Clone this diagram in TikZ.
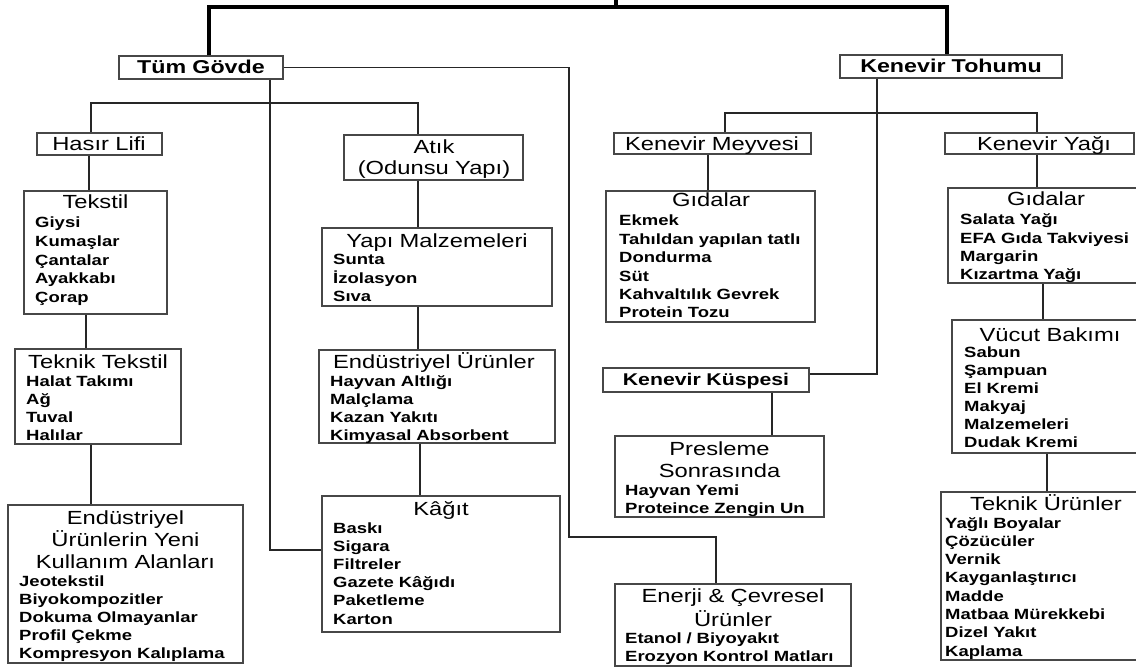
\documentclass[tikz,border=0pt]{standalone}
\usepackage{fontspec}
\setmainfont{Liberation Sans}[FakeStretch=1.25]
\usetikzlibrary{fit}
\tikzset{
  box/.style={draw=black!72, line width=1.1pt, inner sep=0pt},
  link/.style={draw=black!85, line width=1.2pt},
  trunk/.style={draw=black, line width=3.2pt},
  ttl/.style={inner sep=0pt, anchor=base, text width=300pt, align=center,
    font={\fontsize{19}{22}\selectfont}},
  hdr/.style={inner sep=0pt, anchor=base, text width=300pt, align=center,
    font={\fontsize{18.6}{22}\selectfont\bfseries}},
  itm/.style={inner sep=0pt, anchor=base west, text width=230pt, align=left,
    font={\fontsize{14.8}{18.4}\selectfont\bfseries}}
}
\begin{document}
\begin{tikzpicture}[x=1pt,y=-1pt]
\fill[white] (0,0) rectangle (1136,668);
\useasboundingbox (0,0) rectangle (1136,668);

% ---------- boxes ----------
\node[box, fit={(119,56) (283,79)}] (tg) {};
\node[box, fit={(840,55) (1062,78)}] (kt) {};
\node[box, fit={(37,133) (162,155)}] (hl) {};
\node[box, fit={(344,135) (523,180)}] (at) {};
\node[box, fit={(614,133) (811,154)}] (km) {};
\node[box, fit={(945,133) (1134,154)}] (ky) {};
\node[box, fit={(24,191) (167,314)}] (tx) {};
\node[box, fit={(322,228) (552,306)}] (ym) {};
\node[box, fit={(15,349) (181,444)}] (tt) {};
\node[box, fit={(319,350) (555,443)}] (eu) {};
\node[box, fit={(8,505) (243,663)}] (ey) {};
\node[box, fit={(322,496) (560,632)}] (kg) {};
\node[box, fit={(606,191) (815,322)}] (gl) {};
\node[box, fit={(948,188) (1150,283)}] (gr) {};
\node[box, fit={(603,368) (809,392)}] (kk) {};
\node[box, fit={(952,320) (1150,453)}] (vb) {};
\node[box, fit={(615,436) (824,517)}] (ps) {};
\node[box, fit={(615,584) (851,666)}] (en) {};
\node[box, fit={(941,492) (1150,660)}] (tu) {};

% ---------- connector bend points ----------
\coordinate (tick) at (616,0);
\coordinate (jL) at (209,7);
\coordinate (jR) at (947,7);
\coordinate (c1) at (569,537);
\coordinate (c2) at (716,537);
\coordinate (c3) at (270,550);
\coordinate (bl) at (91,103);
\coordinate (br) at (418,103);
\coordinate (rl) at (725,113);
\coordinate (rr) at (1037,113);
\coordinate (c4) at (877,374);
\coordinate (v1) at (89,0);
\coordinate (v2) at (86,0);
\coordinate (v3) at (91,0);
\coordinate (v4) at (418,0);
\coordinate (v5) at (420,0);
\coordinate (v6) at (708,0);
\coordinate (v7) at (772,0);
\coordinate (v8) at (1043,0);
\coordinate (v9) at (1047,0);

% ---------- connectors ----------
\draw[trunk] (tg.north -| jL) -- (jL) -- (jR) -- (kt.north -| jR);
\draw[trunk] (tick) -- (tick |- jL);
\draw[link] (tg.east) -| (c1) -- (c2) -- (en.north -| c2);
\draw[link] (tg.south -| c3) -- (c3) -- (kg.west |- c3);
\draw[link] (hl.north -| bl) -- (bl) -- (br) -- (at.north -| br);
\draw[link] (hl.south -| v1) -- (tx.north -| v1);
\draw[link] (tx.south -| v2) -- (tt.north -| v2);
\draw[link] (tt.south -| v3) -- (ey.north -| v3);
\draw[link] (at.south -| v4) -- (ym.north -| v4);
\draw[link] (ym.south -| v4) -- (eu.north -| v4);
\draw[link] (eu.south -| v5) -- (kg.north -| v5);
\draw[link] (km.north -| rl) -- (rl) -- (rr) -- (ky.north -| rr);
\draw[link] (kt.south -| c4) -- (c4) -- (kk.east |- c4);
\draw[link] (km.south -| v6) -- (gl.north -| v6);
\draw[link] (kk.south -| v7) -- (ps.north -| v7);
\draw[link] (ky.south -| rr) -- (gr.north -| rr);
\draw[link] (gr.south -| v8) -- (vb.north -| v8);
\draw[link] (vb.south -| v9) -- (tu.north -| v9);

% ---------- labels ----------
\node[hdr] (tg-t) at (201,74) {Tüm Gövde};
\node[hdr] (kt-t) at (951,73) {Kenevir Tohumu};
\node[ttl] (hl-t) at (99,151) {Hasır Lifi};
\node[ttl, font={\fontsize{19}{21}\selectfont}] (at-t) at (434,154) {Atık\\(Odunsu Yapı)};
\node[ttl] (km-t) at (712,150.5) {Kenevir Meyvesi};
\node[ttl] (ky-t) at (1044,150.5) {Kenevir Yağı};
\node[hdr, font={\fontsize{17}{20}\selectfont\bfseries}] (kk-t) at (706,386) {Kenevir Küspesi};

\node[ttl] (tx-t) at (95.5,209) {Tekstil};
\node[itm, font={\fontsize{14.8}{18.6}\selectfont\bfseries}] (tx-i) at (35,228) {Giysi\\Kumaşlar\\Çantalar\\Ayakkabı\\Çorap};

\node[ttl] (ym-t) at (437,248) {Yapı Malzemeleri};
\node[itm] (ym-i) at (333,265) {Sunta\\İzolasyon\\Sıva};

\node[ttl] (tt-t) at (98,369) {Teknik Tekstil};
\node[itm, font={\fontsize{14.8}{18}\selectfont\bfseries}] (tt-i) at (26,387) {Halat Takımı\\Ağ\\Tuval\\Halılar};

\node[ttl] (eu-t) at (434,369) {Endüstriyel Ürünler};
\node[itm, font={\fontsize{14.8}{17.8}\selectfont\bfseries}] (eu-i) at (330,387) {Hayvan Altlığı\\Malçlama\\Kazan Yakıtı\\Kimyasal Absorbent};

\node[ttl] (ey-t) at (125.5,524) {Endüstriyel\\Ürünlerin Yeni\\Kullanım Alanları};
\node[itm, font={\fontsize{14.8}{18}\selectfont\bfseries}] (ey-i) at (19,586) {Jeotekstil\\Biyokompozitler\\Dokuma Olmayanlar\\Profil Çekme\\Kompresyon Kalıplama};

\node[ttl] (kg-t) at (441,515) {Kâğıt};
\node[itm, font={\fontsize{14.8}{18.2}\selectfont\bfseries}] (kg-i) at (333,533) {Baskı\\Sigara\\Filtreler\\Gazete Kâğıdı\\Paketleme\\Karton};

\node[ttl] (gl-t) at (711,207) {Gıdalar};
\node[itm] (gl-i) at (619,226) {Ekmek\\Tahıldan yapılan tatlı\\Dondurma\\Süt\\Kahvaltılık Gevrek\\Protein Tozu};

\node[ttl] (gr-t) at (1046,206) {Gıdalar};
\node[itm, font={\fontsize{14.8}{18.3}\selectfont\bfseries}] (gr-i) at (960,225) {Salata Yağı\\EFA Gıda Takviyesi\\Margarin\\Kızartma Yağı};

\node[ttl] (vb-t) at (1050,342) {Vücut Bakımı};
\node[itm, font={\fontsize{14.8}{18}\selectfont\bfseries}] (vb-i) at (964,358) {Sabun\\Şampuan\\El Kremi\\Makyaj\\Malzemeleri\\Dudak Kremi};

\node[ttl] (ps-t) at (719.5,455) {Presleme\\Sonrasında};
\node[itm, font={\fontsize{14.8}{18}\selectfont\bfseries}] (ps-i) at (625,495) {Hayvan Yemi\\Proteince Zengin Un};

\node[ttl, font={\fontsize{19}{24}\selectfont}] (en-t) at (733,602) {Enerji \& Çevresel\\Ürünler};
\node[itm, font={\fontsize{14.8}{18}\selectfont\bfseries}] (en-i) at (625,643) {Etanol / Biyoyakıt\\Erozyon Kontrol Matları};

\node[ttl] (tu-t) at (1046,510) {Teknik Ürünler};
\node[itm, font={\fontsize{14.8}{18.3}\selectfont\bfseries}] (tu-i) at (945,528) {Yağlı Boyalar\\Çözücüler\\Vernik\\Kayganlaştırıcı\\Madde\\Matbaa Mürekkebi\\Dizel Yakıt\\Kaplama};
\end{tikzpicture}
\end{document}
